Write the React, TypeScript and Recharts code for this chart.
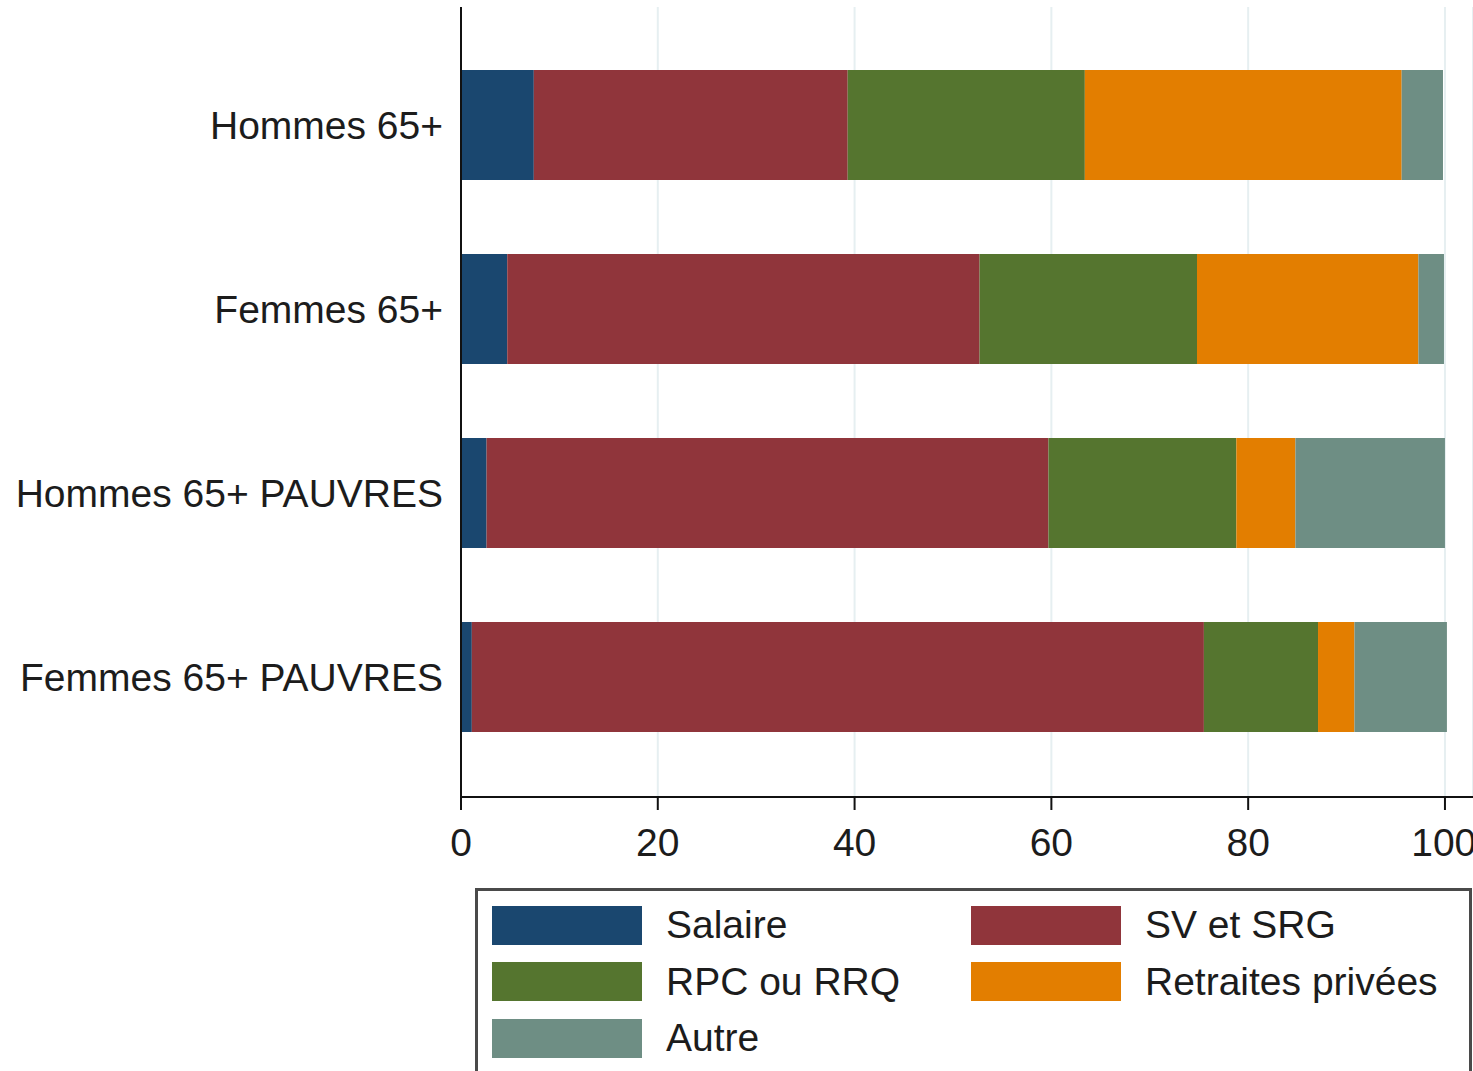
import { BarChart, Bar, XAxis, YAxis, CartesianGrid } from "recharts";

const categories = ["Hommes 65+", "Femmes 65+", "Hommes 65+ PAUVRES", "Femmes 65+ PAUVRES"];
const salaire = [7.4, 4.7, 2.6, 1.1];
const svSrg = [31.9, 48.0, 57.1, 74.4];
const rpcRrq = [24.1, 22.1, 19.1, 11.6];
const retraites = [32.2, 22.5, 6.0, 3.7];
const autre = [4.2, 2.6, 15.2, 9.4];
const xTicks = [0, 20, 40, 60, 80, 100];

const series = [
  { key: "salaire", name: "Salaire", color: "#1a476f" },
  { key: "svSrg", name: "SV et SRG", color: "#90353b" },
  { key: "rpcRrq", name: "RPC ou RRQ", color: "#55752f" },
  { key: "retraites", name: "Retraites privées", color: "#e37e00" },
  { key: "autre", name: "Autre", color: "#6e8e84" },
];

const data = categories.map((c, i) => ({
  cat: c,
  salaire: salaire[i],
  svSrg: svSrg[i],
  rpcRrq: rpcRrq[i],
  retraites: retraites[i],
  autre: autre[i],
}));

const font = "'Liberation Sans', Arial, sans-serif";
const textColor = "#1c1c1c";

function LegendBox() {
  // stata-ish 2 column legend, filled row by row
  return (
    <div
      style={{
        position: "absolute",
        left: 475,
        top: 888,
        width: 997,
        height: 220,
        border: "3px solid #4a4a4a",
        boxSizing: "border-box",
        fontFamily: font,
        fontSize: 39,
        color: textColor,
      }}
    >
      {series.map((s, i) => {
        const col = i % 2;
        const row = Math.floor(i / 2);
        return (
          <div
            key={s.key}
            style={{
              position: "absolute",
              left: col === 0 ? 14 : 493,
              top: 14 + row * 56.5,
              display: "flex",
              alignItems: "center",
              height: 40,
            }}
          >
            <div style={{ width: 150, height: 39, background: s.color }} />
            <span style={{ marginLeft: 24, whiteSpace: "nowrap", lineHeight: "40px" }}>{s.name}</span>
          </div>
        );
      })}
    </div>
  );
}

export default function App() {
  return (
    <div style={{ position: "absolute", left: 0, top: 0, width: 1473, height: 1071, overflow: "hidden", background: "#fff" }}>
      <BarChart
        width={1473}
        height={1071}
        data={data}
        layout="vertical"
        margin={{ top: 7, right: 0, bottom: 0, left: 0 }}
      >
        <CartesianGrid horizontal={false} stroke="#e6eff1" strokeWidth={2} />
        <XAxis
          type="number"
          domain={[0, 102.85]}
          ticks={xTicks}
          allowDataOverflow
          height={274}
          tickSize={13}
          tickMargin={18}
          axisLine={{ stroke: "#111", strokeWidth: 2 }}
          tickLine={{ stroke: "#111", strokeWidth: 2 }}
          tick={{ fill: textColor, fontSize: 39, fontFamily: font }}
        />
        <YAxis
          type="category"
          dataKey="cat"
          width={461}
          padding={{ top: 26, bottom: 28 }}
          tickLine={false}
          tickSize={0}
          tickMargin={18}
          axisLine={{ stroke: "#111", strokeWidth: 2 }}
          tick={{ fill: textColor, fontSize: 39, fontFamily: font }}
        />
        {series.map((s) => (
          <Bar key={s.key} dataKey={s.key} name={s.name} stackId="a" fill={s.color} barSize={110} isAnimationActive={false} />
        ))}
      </BarChart>
      <LegendBox />
    </div>
  );
}
